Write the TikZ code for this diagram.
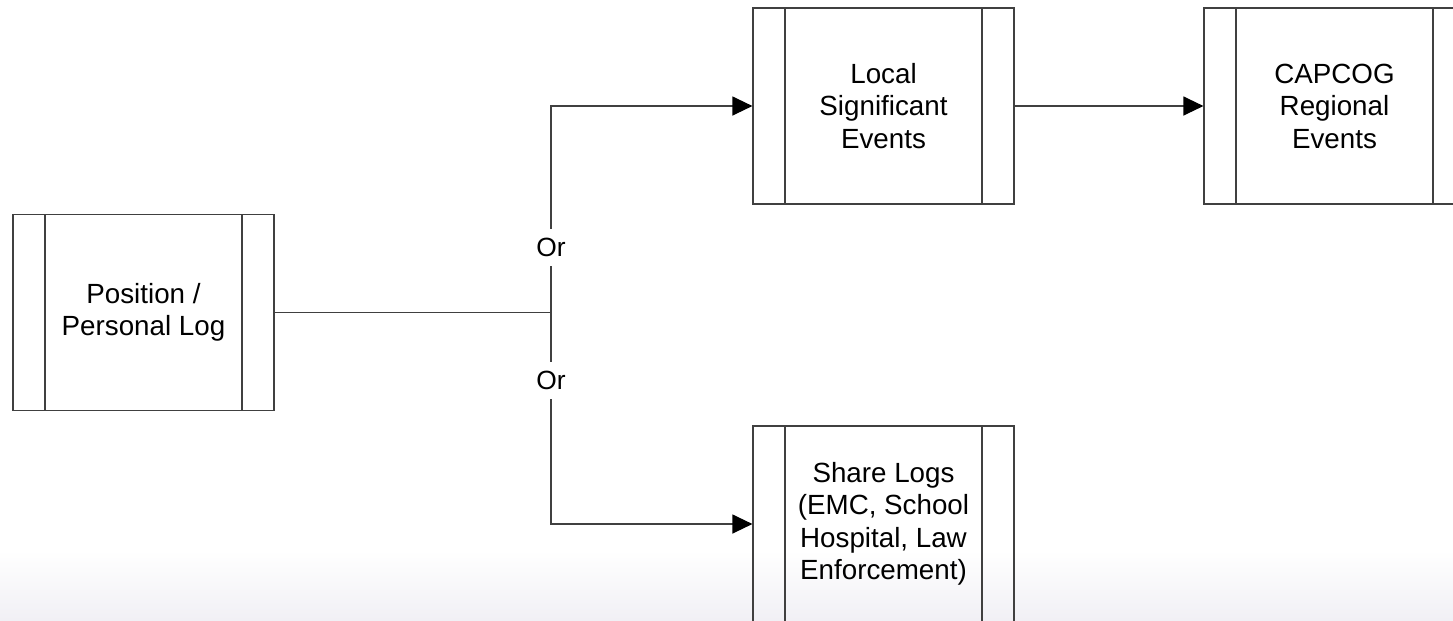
\documentclass[tikz,border=0pt]{standalone}
\usepackage{fontspec}
\setmainfont{Liberation Sans}
\usetikzlibrary{arrows.meta}
\definecolor{linec}{HTML}{404040}
\definecolor{bandc}{HTML}{F1F0F5}
\tikzset{
  procbox/.style={draw=linec, line width=0.7pt, minimum width=5.22cm, minimum height=3.92cm,
    inner sep=0pt, align=center, font=\fontsize{15.8}{18.5}\selectfont,
    path picture={\draw[linec, line width=0.7pt]
      ([xshift=0.64cm]path picture bounding box.north west) -- ([xshift=0.64cm]path picture bounding box.south west)
      ([xshift=-0.64cm]path picture bounding box.north east) -- ([xshift=-0.64cm]path picture bounding box.south east);}},
  conn/.style={draw=linec, line width=0.7pt},
  arr/.style={conn, -{Triangle[length=0.4cm, width=0.38cm, color=black, fill=black]}},
  orlabel/.style={fill=white, inner sep=0pt, minimum height=0.74cm, font=\fontsize{15}{17}\selectfont}
}
\begin{document}
\begin{tikzpicture}[x=0.02cm, y=-0.02cm]
\useasboundingbox (0,0) rectangle (1453,620);
\clip (0,0) rectangle (1453,620);
\fill[white] (0,0) rectangle (1453,620);
\shade[top color=white, bottom color=bandc] (0,550) rectangle (1453,620);
\node[procbox] (pos) at (143.5,312.5) {Position /\\Personal Log};
\node[procbox] (loc) at (883.5,106) {Local\\Significant\\Events};
\node[procbox] (cap) at (1334.5,106) {CAPCOG\\Regional\\Events};
\node[procbox] (share) at (883.5,524) {Share Logs\\(EMC, School\\Hospital, Law\\Enforcement)};
\coordinate (j) at (551,312.5);
\draw[conn] (pos.east) -- (j);
\draw[arr] (j) |- (loc.west);
\draw[arr] (j) |- (share.west);
\draw[arr] (loc.east) -- (cap.west);
\node[orlabel] (or1) at (551,247) {Or};
\node[orlabel] (or2) at (551,380) {Or};
\end{tikzpicture}
\end{document}
